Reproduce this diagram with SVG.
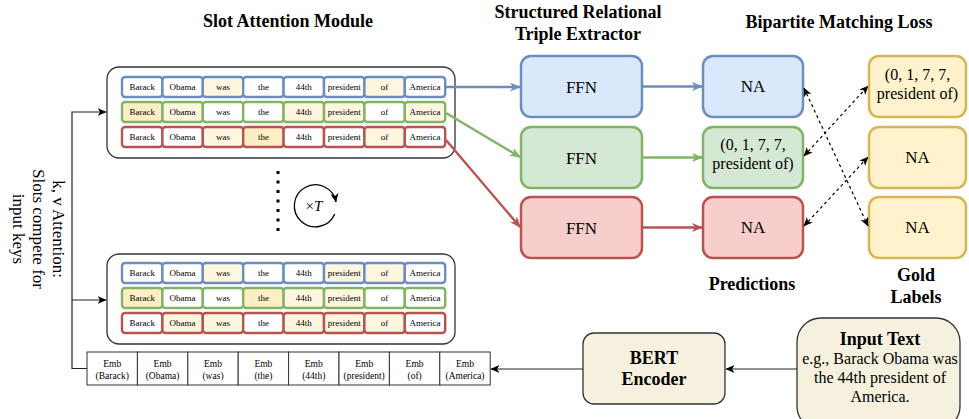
<svg xmlns="http://www.w3.org/2000/svg" width="969" height="419" viewBox="0 0 969 419">
  <style>
    text { font-family: "Liberation Serif", "Times New Roman", serif; fill: #000; }
    .title { font-size: 18px; font-weight: bold; text-anchor: middle; }
    .tok { font-size: 9px; text-anchor: middle; }
    .emb { font-size: 9.5px; text-anchor: middle; }
    .lbl { font-size: 17px; text-anchor: middle; }
    .lbl16 { font-size: 16px; text-anchor: middle; }
    .frame { fill: #fff; stroke: #333; stroke-width: 1.3; }
    .blue { fill: #dae8fc; stroke: #6c8ebf; stroke-width: 2.5; }
    .green { fill: #d5e8d4; stroke: #82b366; stroke-width: 2.5; }
    .red { fill: #f8cecc; stroke: #b85450; stroke-width: 2.5; }
    .gold { fill: #fff2cc; stroke: #d6b656; stroke-width: 2.5; }
    .beige { fill: #f6f1de; stroke: #333; stroke-width: 1.3; }
    .cb { stroke: #6c8ebf; stroke-width: 2.4; }
    .cg { stroke: #82b366; stroke-width: 2.4; }
    .cr { stroke: #b85450; stroke-width: 2.4; }
    .w { fill: #fff; }
    .y1 { fill: #fff6e0; }
    .y2 { fill: #ffedc4; }
    .embcell { fill: #fff; stroke: #333; stroke-width: 1; }
    .wire { fill: none; stroke: #222; stroke-width: 1.2; }
    .dot { fill: none; stroke: #000; stroke-width: 1.2; stroke-dasharray: 3 3; }
  </style>
  <defs>
    <marker id="ahBlue" markerWidth="11" markerHeight="9" refX="10" refY="4.5" orient="auto" markerUnits="userSpaceOnUse">
      <path d="M0,0 L11,4.5 L0,9 L3,4.5 z" fill="#6c8ebf"/>
    </marker>
    <marker id="ahGreen" markerWidth="11" markerHeight="9" refX="10" refY="4.5" orient="auto" markerUnits="userSpaceOnUse">
      <path d="M0,0 L11,4.5 L0,9 L3,4.5 z" fill="#82b366"/>
    </marker>
    <marker id="ahRed" markerWidth="11" markerHeight="9" refX="10" refY="4.5" orient="auto" markerUnits="userSpaceOnUse">
      <path d="M0,0 L11,4.5 L0,9 L3,4.5 z" fill="#b85450"/>
    </marker>
    <marker id="ahBlack" markerWidth="9" markerHeight="8" refX="8.5" refY="4" orient="auto-start-reverse" markerUnits="userSpaceOnUse">
      <path d="M0,0 L9,4 L0,8 L2.5,4 z" fill="#000"/>
    </marker>
  </defs>

  <!-- section headings -->
  <text class="title" x="288" y="27">Slot Attention Module</text>
  <text class="title" x="578" y="18">Structured Relational</text>
  <text class="title" x="578" y="40">Triple Extractor</text>
  <text class="title" x="839" y="28">Bipartite Matching Loss</text>

  <!-- slot attention, first iteration -->
  <g id="slots-top">
    <rect class="frame" x="107" y="67" width="348" height="91" rx="12"/>
    <g class="cb">
      <rect class="w" x="122" y="77" width="40.4" height="20" rx="3"/>
      <rect class="w" x="162.4" y="77" width="40.4" height="20" rx="3"/>
      <rect class="y1" x="202.8" y="77" width="40.4" height="20" rx="3"/>
      <rect class="w" x="243.2" y="77" width="40.4" height="20" rx="3"/>
      <rect class="w" x="283.6" y="77" width="40.4" height="20" rx="3"/>
      <rect class="w" x="324" y="77" width="40.4" height="20" rx="3"/>
      <rect class="y1" x="364.4" y="77" width="40.4" height="20" rx="3"/>
      <rect class="w" x="404.8" y="77" width="40.4" height="20" rx="3"/>
    </g>
    <g class="cg">
      <rect class="y2" x="122" y="102" width="40.4" height="20" rx="3"/>
      <rect class="y1" x="162.4" y="102" width="40.4" height="20" rx="3"/>
      <rect class="w" x="202.8" y="102" width="40.4" height="20" rx="3"/>
      <rect class="w" x="243.2" y="102" width="40.4" height="20" rx="3"/>
      <rect class="y1" x="283.6" y="102" width="40.4" height="20" rx="3"/>
      <rect class="y1" x="324" y="102" width="40.4" height="20" rx="3"/>
      <rect class="w" x="364.4" y="102" width="40.4" height="20" rx="3"/>
      <rect class="y1" x="404.8" y="102" width="40.4" height="20" rx="3"/>
    </g>
    <g class="cr">
      <rect class="w" x="122" y="127" width="40.4" height="20" rx="3"/>
      <rect class="w" x="162.4" y="127" width="40.4" height="20" rx="3"/>
      <rect class="y1" x="202.8" y="127" width="40.4" height="20" rx="3"/>
      <rect class="y2" x="243.2" y="127" width="40.4" height="20" rx="3"/>
      <rect class="w" x="283.6" y="127" width="40.4" height="20" rx="3"/>
      <rect class="w" x="324" y="127" width="40.4" height="20" rx="3"/>
      <rect class="y1" x="364.4" y="127" width="40.4" height="20" rx="3"/>
      <rect class="w" x="404.8" y="127" width="40.4" height="20" rx="3"/>
    </g>
    <g class="tok">
      <text x="142.2" y="90">Barack</text><text x="182.6" y="90">Obama</text><text x="223" y="90">was</text><text x="263.4" y="90">the</text><text x="303.8" y="90">44th</text><text x="344.2" y="90">president</text><text x="384.6" y="90">of</text><text x="425" y="90">America</text>
      <text x="142.2" y="115">Barack</text><text x="182.6" y="115">Obama</text><text x="223" y="115">was</text><text x="263.4" y="115">the</text><text x="303.8" y="115">44th</text><text x="344.2" y="115">president</text><text x="384.6" y="115">of</text><text x="425" y="115">America</text>
      <text x="142.2" y="140">Barack</text><text x="182.6" y="140">Obama</text><text x="223" y="140">was</text><text x="263.4" y="140">the</text><text x="303.8" y="140">44th</text><text x="344.2" y="140">president</text><text x="384.6" y="140">of</text><text x="425" y="140">America</text>
    </g>
  </g>

  <!-- repeated iterations -->
  <g id="iterate">
    <g fill="#000">
      <rect x="276.5" y="171" width="3" height="3"/>
      <rect x="276.5" y="180.5" width="3" height="3"/>
      <rect x="276.5" y="190" width="3" height="3"/>
      <rect x="276.5" y="199.5" width="3" height="3"/>
      <rect x="276.5" y="209" width="3" height="3"/>
      <rect x="276.5" y="218.5" width="3" height="3"/>
      <rect x="276.5" y="228" width="3" height="3"/>
    </g>
    <path d="M334.7,213.9 A21,21 0 1 1 336,202" fill="none" stroke="#000" stroke-width="1.3" marker-end="url(#ahBlack)"/>
    <text x="314" y="211" style="font-size:15px; text-anchor:middle">×<tspan font-style="italic">T</tspan></text>
  </g>

  <!-- slot attention, last iteration -->
  <g id="slots-bottom">
    <rect class="frame" x="107" y="254" width="348" height="90" rx="12"/>
    <g class="cb">
      <rect class="w" x="122" y="263" width="40.4" height="20" rx="3"/>
      <rect class="w" x="162.4" y="263" width="40.4" height="20" rx="3"/>
      <rect class="y1" x="202.8" y="263" width="40.4" height="20" rx="3"/>
      <rect class="w" x="243.2" y="263" width="40.4" height="20" rx="3"/>
      <rect class="w" x="283.6" y="263" width="40.4" height="20" rx="3"/>
      <rect class="y1" x="324" y="263" width="40.4" height="20" rx="3"/>
      <rect class="y1" x="364.4" y="263" width="40.4" height="20" rx="3"/>
      <rect class="w" x="404.8" y="263" width="40.4" height="20" rx="3"/>
    </g>
    <g class="cg">
      <rect class="y2" x="122" y="288" width="40.4" height="20" rx="3"/>
      <rect class="w" x="162.4" y="288" width="40.4" height="20" rx="3"/>
      <rect class="w" x="202.8" y="288" width="40.4" height="20" rx="3"/>
      <rect class="y2" x="243.2" y="288" width="40.4" height="20" rx="3"/>
      <rect class="y1" x="283.6" y="288" width="40.4" height="20" rx="3"/>
      <rect class="y1" x="324" y="288" width="40.4" height="20" rx="3"/>
      <rect class="w" x="364.4" y="288" width="40.4" height="20" rx="3"/>
      <rect class="w" x="404.8" y="288" width="40.4" height="20" rx="3"/>
    </g>
    <g class="cr">
      <rect class="w" x="122" y="313" width="40.4" height="20" rx="3"/>
      <rect class="y1" x="162.4" y="313" width="40.4" height="20" rx="3"/>
      <rect class="y1" x="202.8" y="313" width="40.4" height="20" rx="3"/>
      <rect class="w" x="243.2" y="313" width="40.4" height="20" rx="3"/>
      <rect class="y1" x="283.6" y="313" width="40.4" height="20" rx="3"/>
      <rect class="y1" x="324" y="313" width="40.4" height="20" rx="3"/>
      <rect class="y1" x="364.4" y="313" width="40.4" height="20" rx="3"/>
      <rect class="w" x="404.8" y="313" width="40.4" height="20" rx="3"/>
    </g>
    <g class="tok">
      <text x="142.2" y="276">Barack</text><text x="182.6" y="276">Obama</text><text x="223" y="276">was</text><text x="263.4" y="276">the</text><text x="303.8" y="276">44th</text><text x="344.2" y="276">president</text><text x="384.6" y="276">of</text><text x="425" y="276">America</text>
      <text x="142.2" y="301">Barack</text><text x="182.6" y="301">Obama</text><text x="223" y="301">was</text><text x="263.4" y="301">the</text><text x="303.8" y="301">44th</text><text x="344.2" y="301">president</text><text x="384.6" y="301">of</text><text x="425" y="301">America</text>
      <text x="142.2" y="326">Barack</text><text x="182.6" y="326">Obama</text><text x="223" y="326">was</text><text x="263.4" y="326">the</text><text x="303.8" y="326">44th</text><text x="344.2" y="326">president</text><text x="384.6" y="326">of</text><text x="425" y="326">America</text>
    </g>
  </g>

  <!-- token embeddings -->
  <g id="embeddings">
    <rect class="embcell" x="87" y="352" width="50.4" height="33"/>
    <rect class="embcell" x="137.4" y="352" width="50.4" height="33"/>
    <rect class="embcell" x="187.8" y="352" width="50.4" height="33"/>
    <rect class="embcell" x="238.2" y="352" width="50.4" height="33"/>
    <rect class="embcell" x="288.6" y="352" width="50.4" height="33"/>
    <rect class="embcell" x="339" y="352" width="50.4" height="33"/>
    <rect class="embcell" x="389.4" y="352" width="50.4" height="33"/>
    <rect class="embcell" x="439.8" y="352" width="50.4" height="33"/>
    <g class="emb">
      <text x="112.2" y="367">Emb</text><text x="112.2" y="378.5">(Barack)</text>
      <text x="162.6" y="367">Emb</text><text x="162.6" y="378.5">(Obama)</text>
      <text x="213" y="367">Emb</text><text x="213" y="378.5">(was)</text>
      <text x="263.4" y="367">Emb</text><text x="263.4" y="378.5">(the)</text>
      <text x="313.8" y="367">Emb</text><text x="313.8" y="378.5">(44th)</text>
      <text x="364.2" y="367">Emb</text><text x="364.2" y="378.5">(president)</text>
      <text x="414.6" y="367">Emb</text><text x="414.6" y="378.5">(of)</text>
      <text x="465" y="367">Emb</text><text x="465" y="378.5">(America)</text>
    </g>
  </g>

  <!-- k, v attention label, read top to bottom -->
  <g id="attention-label">
    <text transform="translate(53,229) rotate(90)" class="lbl">k, v Attention:</text>
    <text transform="translate(33,229) rotate(90)" class="lbl">Slots compete for</text>
    <text transform="translate(13,229) rotate(90)" class="lbl">input keys</text>
  </g>

  <!-- triple extractor -->
  <g id="ffn-1"><rect class="blue" x="521" y="56" width="121" height="61" rx="10"/><text class="lbl" x="581.5" y="92.5">FFN</text></g>
  <g id="ffn-2"><rect class="green" x="521" y="127" width="121" height="61" rx="10"/><text class="lbl" x="581.5" y="163.5">FFN</text></g>
  <g id="ffn-3"><rect class="red" x="521" y="197" width="121" height="61" rx="10"/><text class="lbl" x="581.5" y="233.5">FFN</text></g>

  <!-- predictions -->
  <g id="pred-1"><rect class="blue" x="703" y="56" width="100" height="61" rx="10"/><text class="lbl" x="753" y="92">NA</text></g>
  <g id="pred-2"><rect class="green" x="703" y="127" width="100" height="61" rx="10"/><text class="lbl16" x="753" y="150">(0, 1, 7, 7,</text><text class="lbl16" x="753" y="169">president of)</text></g>
  <g id="pred-3"><rect class="red" x="703" y="197" width="100" height="61" rx="10"/><text class="lbl" x="753" y="233">NA</text></g>
  <text class="title" x="752" y="290">Predictions</text>

  <!-- gold labels -->
  <g id="gold-1"><rect class="gold" x="869" y="56" width="97" height="61" rx="10"/><text class="lbl16" x="917.5" y="80">(0, 1, 7, 7,</text><text class="lbl16" x="917.5" y="99">president of)</text></g>
  <g id="gold-2"><rect class="gold" x="869" y="127" width="97" height="61" rx="10"/><text class="lbl" x="917.5" y="163">NA</text></g>
  <g id="gold-3"><rect class="gold" x="869" y="197" width="97" height="61" rx="10"/><text class="lbl" x="917.5" y="233">NA</text></g>
  <text class="title" x="916" y="281">Gold</text>
  <text class="title" x="916" y="303">Labels</text>

  <!-- encoder and input -->
  <g id="bert">
    <rect class="beige" x="583" y="333" width="142" height="71" rx="11"/>
    <text class="title" x="654" y="364">BERT</text>
    <text class="title" x="654" y="385">Encoder</text>
  </g>
  <g id="input-text">
    <rect class="beige" x="797" y="318" width="163" height="112" rx="24"/>
    <text class="title" x="880" y="345">Input Text</text>
    <text class="lbl16" x="880" y="364">e.g., Barack Obama was</text>
    <text class="lbl16" x="880" y="383">the 44th president of</text>
    <text class="lbl16" x="880" y="402">America.</text>
  </g>

  <!-- connectors -->
  <g id="connectors">
    <path class="wire" d="M87,368.5 H72 V112 H106" marker-end="url(#ahBlack)"/>
    <path class="wire" d="M72,300 H106" marker-end="url(#ahBlack)"/>
    <path class="wire" d="M797,369 H726" marker-end="url(#ahBlack)"/>
    <path class="wire" d="M583,369 H491" marker-end="url(#ahBlack)"/>

    <path d="M446,87 H520" class="cb" fill="none" marker-end="url(#ahBlue)"/>
    <path d="M446,113 L520,157" class="cg" fill="none" marker-end="url(#ahGreen)"/>
    <path d="M446,140 L520,227" class="cr" fill="none" marker-end="url(#ahRed)"/>

    <path d="M643,86.5 H702" class="cb" fill="none" marker-end="url(#ahBlue)"/>
    <path d="M643,157.5 H702" class="cg" fill="none" marker-end="url(#ahGreen)"/>
    <path d="M643,227.5 H702" class="cr" fill="none" marker-end="url(#ahRed)"/>

    <path class="dot" d="M804,88 L868,226" marker-start="url(#ahBlack)" marker-end="url(#ahBlack)"/>
    <path class="dot" d="M804,156 L868,86" marker-start="url(#ahBlack)" marker-end="url(#ahBlack)"/>
    <path class="dot" d="M804,226 L868,157" marker-start="url(#ahBlack)" marker-end="url(#ahBlack)"/>
  </g>
</svg>
